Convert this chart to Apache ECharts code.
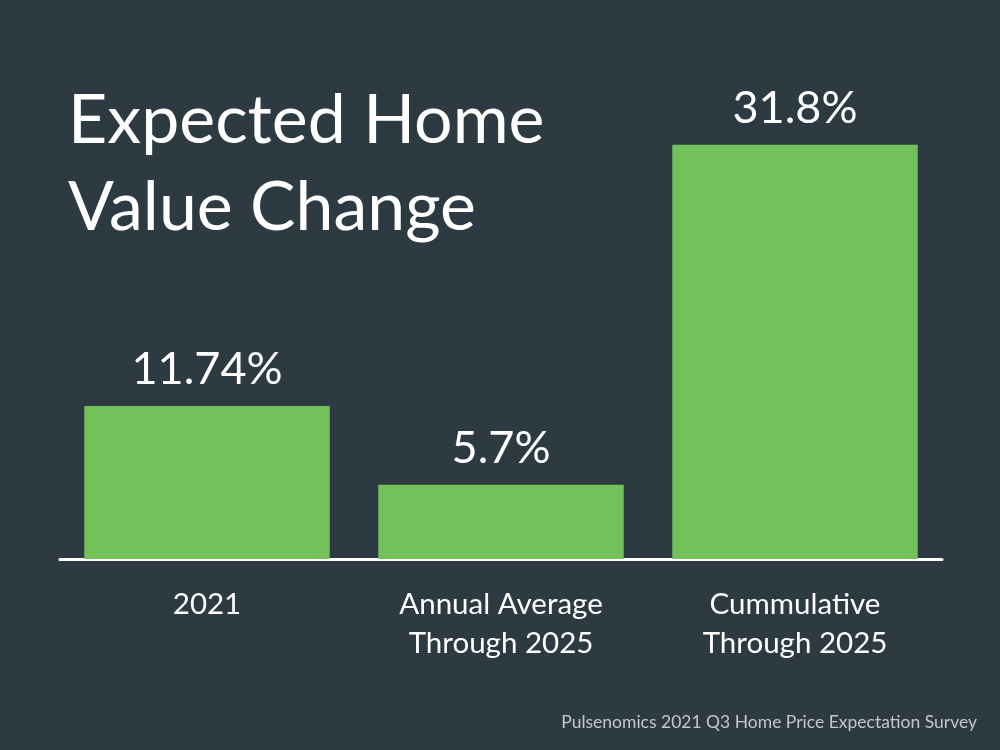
<!DOCTYPE html>
<html>
<head>
<meta charset="utf-8">
<script src="https://cdn.jsdelivr.net/npm/echarts@6/dist/echarts.min.js"></script>
<style>
html,body{margin:0;padding:0;background:#2e3a42;}
#chart{width:1000px;height:750px;}
</style>
</head>
<body>
<div id="chart"></div>
<script>
const categories = ['2021', 'Annual Average\nThrough 2025', 'Cummulative\nThrough 2025'];
const values = [11.74, 5.7, 31.8];
const valueLabels = ['11.74%', '5.7%', '31.8%'];
const titleText = 'Expected Home\nValue Change';
const sourceText = 'Pulsenomics 2021 Q3 Home Price Expectation Survey';

const FONT = 'Lato, "Open Sans", sans-serif';
const chart = echarts.init(document.getElementById('chart'));
chart.setOption({
  backgroundColor: '#2e3a42',
  animation: false,
  title: {
    text: titleText,
    left: 63,
    top: 73,
    textStyle: { color: '#ffffff', fontFamily: FONT, fontWeight: 'normal', fontSize: 68, lineHeight: 87 }
  },
  graphic: [{
    type: 'text',
    right: 23,
    top: 713,
    style: { text: sourceText, fill: '#c3c7ca', font: '17.5px ' + FONT }
  }],
  grid: { left: 60, right: 58, top: 38, bottom: 191, containLabel: false },
  xAxis: {
    type: 'category',
    data: categories,
    axisLine: { lineStyle: { color: '#ffffff', width: 3 } },
    axisTick: { show: false },
    axisLabel: { color: '#ffffff', fontFamily: FONT, fontSize: 29.5, lineHeight: 39, margin: 26 }
  },
  yAxis: {
    type: 'value',
    min: 0, max: 40,
    show: false,
    splitLine: { show: false }
  },
  series: [{
    type: 'bar',
    data: values,
    barWidth: '83.5%',
    itemStyle: { color: '#72c15a' },
    label: {
      show: true,
      position: 'top',
      distance: 14,
      color: '#ffffff',
      fontFamily: FONT,
      fontSize: 45,
      formatter: p => valueLabels[p.dataIndex]
    }
  }]
});
</script>
</body>
</html>
